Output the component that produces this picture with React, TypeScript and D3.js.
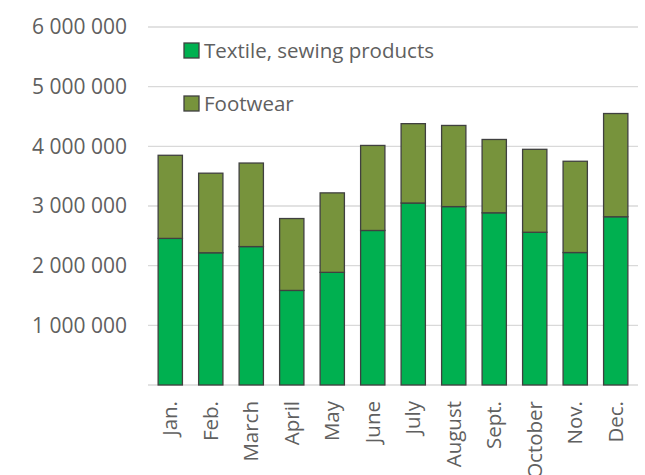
import React from "react";
import * as d3 from "d3";

const months = ["Jan.", "Feb.", "March", "April", "May", "June", "July", "August", "Sept.", "October", "Nov.", "Dec."];
const textile = [2457000, 2216000, 2320000, 1585000, 1888000, 2590000, 3050000, 2990000, 2886000, 2560000, 2220000, 2820000];
const footwear = [1393000, 1334000, 1400000, 1205000, 1332000, 1425000, 1330000, 1360000, 1229000, 1390000, 1530000, 1730000];
const yTicks = [0, 1000000, 2000000, 3000000, 4000000, 5000000, 6000000];
const seriesNames = ["Textile, sewing products", "Footwear"];
const colors = ["#00B050", "#77933C"];

const W = 645, H = 475;
const left = 148, right = 638, top = 27, bottom = 385;
const font = "'Open Sans', sans-serif";

export default function App() {
  const x = d3.scaleBand<string>().domain(months).range([left, right]).paddingInner(0.4).paddingOuter(0.25);
  const y = d3.scaleLinear().domain([0, 6000000]).range([bottom, top]);
  const fmt = (v: number) => d3.format(",")(v).replace(/,/g, " ");
  const stack = d3.stack<number>().keys([0, 1]).value((i, k) => (k === 0 ? textile[i] : footwear[i]));
  const layers = stack(months.map((_, i) => i));

  return (
    <svg width={W} height={H} style={{ position: "absolute", left: 0, top: 0, background: "#fff" }}>
      {yTicks.map((t) => (
        <g key={t}>
          <line x1={left} x2={right} y1={y(t)} y2={y(t)} stroke="#d9d9d9" strokeWidth={1.3} />
          {t > 0 && (
            <text x={127} y={y(t)} dy="0.35em" textAnchor="end" fontFamily={font} fontSize={21} fill="#606060">
              {fmt(t)}
            </text>
          )}
        </g>
      ))}
      {layers.map((layer, li) =>
        layer.map((d, i) => (
          <rect
            key={li + "-" + i}
            x={x(months[i])}
            width={x.bandwidth()}
            y={y(d[1])}
            height={y(d[0]) - y(d[1])}
            fill={colors[li]}
            stroke="#404040"
            strokeWidth={1.3}
          />
        ))
      )}
      {months.map((m) => (
        <text
          key={m}
          transform={`translate(${(x(m) as number) + x.bandwidth() / 2},${401}) rotate(-90)`}
          dy="0.35em"
          textAnchor="end"
          fontFamily={font}
          fontSize={20.5}
          fill="#606060"
        >
          {m}
        </text>
      ))}
      {seriesNames.map((s, i) => (
        <g key={s} transform={`translate(184,${43 + i * 53})`}>
          <rect x={0} y={0} width={15} height={15} fill={colors[i]} stroke="#404040" strokeWidth={1.3} />
          <text x={20} y={7.5} dy="0.35em" fontFamily={font} fontSize={20.5} fill="#606060">
            {s}
          </text>
        </g>
      ))}
    </svg>
  );
}
